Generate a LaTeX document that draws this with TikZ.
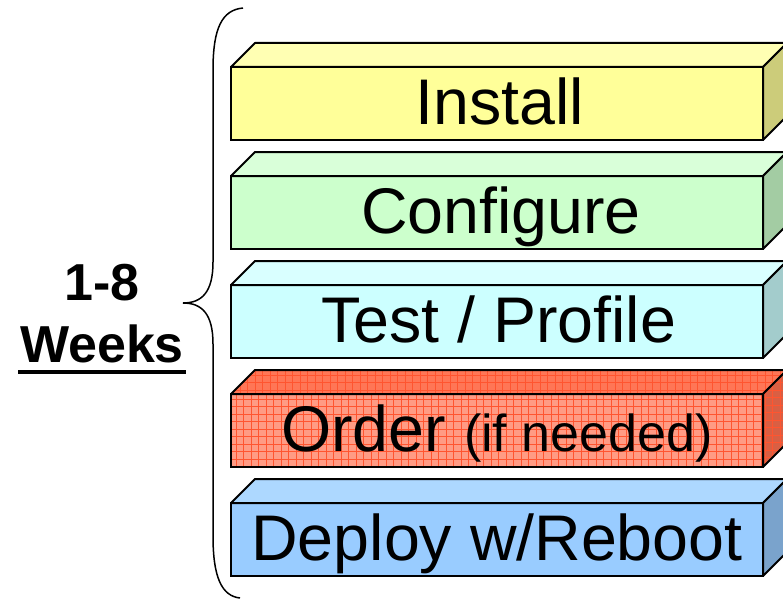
\documentclass[tikz,border=0pt]{standalone}
\usepackage{fontspec}
\setmainfont{Liberation Sans}
\usetikzlibrary{calc}

\definecolor{instFront}{HTML}{FFFF99}
\definecolor{instTop}{HTML}{FFFFB3}
\definecolor{instSide}{HTML}{CCCC7A}
\definecolor{confFront}{HTML}{CCFFCC}
\definecolor{confTop}{HTML}{D9FFD9}
\definecolor{confSide}{HTML}{A3CCA3}
\definecolor{testFront}{HTML}{CCFFFF}
\definecolor{testTop}{HTML}{D9FFFF}
\definecolor{testSide}{HTML}{A3CCCC}
\definecolor{ordFront}{HTML}{FF9B84}
\definecolor{ordTop}{HTML}{FF7656}
\definecolor{ordSide}{HTML}{D95F43}
\definecolor{ordLine}{HTML}{FF5530}
\definecolor{depFront}{HTML}{99CCFF}
\definecolor{depTop}{HTML}{ADD8FF}
\definecolor{depSide}{HTML}{7AA3CC}

\tikzset{
  x=1pt, y=-1pt,
  slabface/.style={draw=black, line width=2pt, inner sep=0pt, outer sep=0pt,
    minimum width=532pt, minimum height=73pt,
    text height=51pt, text depth=9pt,
    font=\fontsize{64.5}{64.5}\selectfont},
  slabedge/.style={draw=black, line width=2pt, line join=round},
  meshed/.style={path picture={
    \draw[ordLine, line width=0.8pt, step=7.5pt]
      (path picture bounding box.south west) grid (path picture bounding box.north east);}},
  weekfont/.style={font=\fontsize{52}{52}\selectfont\bfseries},
  bracestyle/.style={draw=black, line width=1.5pt}
}

\begin{document}
\begin{tikzpicture}
\useasboundingbox (0,0) rectangle (783,599);
\clip (0,0) rectangle (783,599);
\fill[white] (0,0) rectangle (783,599);

% stacked phases: front face node, then its top and right faces
\node[slabface, fill=instFront] (install) at (497,103.5) {\hspace{6pt}Install};
\path[slabedge, fill=instTop] (install.north west) -- ++(24,-24)
  -- ($(install.north east)+(24,-24)$) -- (install.north east) -- cycle;
\path[slabedge, fill=instSide] (install.north east) -- ++(24,-24)
  -- ++(0,73) -- (install.south east) -- cycle;

\node[slabface, fill=confFront] (configure) at (497,212.5) {\hspace{8pt}Configure};
\path[slabedge, fill=confTop] (configure.north west) -- ++(24,-24)
  -- ($(configure.north east)+(24,-24)$) -- (configure.north east) -- cycle;
\path[slabedge, fill=confSide] (configure.north east) -- ++(24,-24)
  -- ++(0,73) -- (configure.south east) -- cycle;

\node[slabface, fill=testFront] (test) at (497,321.5) {\hspace{3pt}Test / Profile};
\path[slabedge, fill=testTop] (test.north west) -- ++(24,-24)
  -- ($(test.north east)+(24,-24)$) -- (test.north east) -- cycle;
\path[slabedge, fill=testSide] (test.north east) -- ++(24,-24)
  -- ++(0,73) -- (test.south east) -- cycle;

\node[slabface, fill=ordFront, meshed] (order) at (497,430.5)
  {Order {\fontsize{52}{52}\selectfont(if needed)}};
\path[slabedge, fill=ordTop, meshed] (order.north west) -- ++(24,-24)
  -- ($(order.north east)+(24,-24)$) -- (order.north east) -- cycle;
\path[slabedge, fill=ordSide, meshed] (order.north east) -- ++(24,-24)
  -- ++(0,73) -- (order.south east) -- cycle;

\node[slabface, fill=depFront] (deploy) at (497,539.5) {Deploy w/Reboot};
\path[slabedge, fill=depTop] (deploy.north west) -- ++(24,-24)
  -- ($(deploy.north east)+(24,-24)$) -- (deploy.north east) -- cycle;
\path[slabedge, fill=depSide] (deploy.north east) -- ++(24,-24)
  -- ++(0,73) -- (deploy.south east) -- cycle;

% curly brace spanning all phases
\coordinate (braceTop) at (243,8);
\coordinate (braceTip) at (183,303);
\coordinate (braceEnd) at (240,598);
\path[bracestyle] (braceTop) .. controls (222,10) and (213,28) .. (213,70)
  -- (213,262) .. controls (213,292) and (202,303) .. (braceTip)
  .. controls (202,303) and (213,314) .. (213,344)
  -- (213,536) .. controls (213,578) and (222,596) .. (braceEnd);

% duration label
\node[weekfont, anchor=base] (range) at (102,300) {1-8};
\node[weekfont, anchor=base] (weeks) at (102,362) {Weeks};
\fill[black] (18,370) rectangle (186,374);
\end{tikzpicture}
\end{document}
